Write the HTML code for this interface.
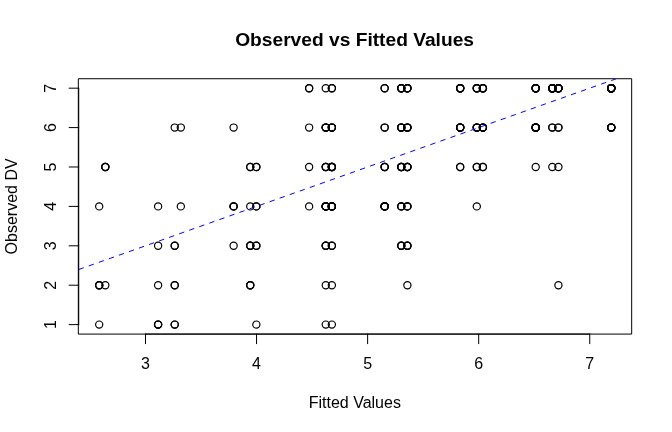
<!DOCTYPE html>
<html><head><meta charset="utf-8"><title>Observed vs Fitted Values</title>
<style>html,body{margin:0;padding:0;background:#fff;}body{width:672px;height:432px;overflow:hidden;font-family:"Liberation Sans",sans-serif;}svg{display:block;will-change:transform;}</style>
</head><body>
<svg width="672" height="432" viewBox="0 0 672 432">
<rect width="672" height="432" fill="#fff"/>
<g fill="none" stroke="#000" stroke-width="1.2"><circle cx="309.14" cy="88.18" r="3.6"/><circle cx="309.14" cy="88.18" r="3.6"/><circle cx="325.76" cy="88.18" r="3.6"/><circle cx="331.86" cy="88.18" r="3.6"/><circle cx="331.86" cy="88.18" r="3.6"/><circle cx="384.66" cy="88.18" r="3.6"/><circle cx="384.66" cy="88.18" r="3.6"/><circle cx="401.28" cy="88.18" r="3.6"/><circle cx="401.28" cy="88.18" r="3.6"/><circle cx="401.28" cy="88.18" r="3.6"/><circle cx="401.28" cy="88.18" r="3.6"/><circle cx="407.38" cy="88.18" r="3.6"/><circle cx="407.38" cy="88.18" r="3.6"/><circle cx="407.38" cy="88.18" r="3.6"/><circle cx="407.38" cy="88.18" r="3.6"/><circle cx="460.18" cy="88.18" r="3.6"/><circle cx="460.18" cy="88.18" r="3.6"/><circle cx="460.18" cy="88.18" r="3.6"/><circle cx="460.18" cy="88.18" r="3.6"/><circle cx="460.18" cy="88.18" r="3.6"/><circle cx="476.80" cy="88.18" r="3.6"/><circle cx="476.80" cy="88.18" r="3.6"/><circle cx="476.80" cy="88.18" r="3.6"/><circle cx="476.80" cy="88.18" r="3.6"/><circle cx="482.90" cy="88.18" r="3.6"/><circle cx="482.90" cy="88.18" r="3.6"/><circle cx="482.90" cy="88.18" r="3.6"/><circle cx="482.90" cy="88.18" r="3.6"/><circle cx="535.70" cy="88.18" r="3.6"/><circle cx="535.70" cy="88.18" r="3.6"/><circle cx="535.70" cy="88.18" r="3.6"/><circle cx="535.70" cy="88.18" r="3.6"/><circle cx="535.70" cy="88.18" r="3.6"/><circle cx="535.70" cy="88.18" r="3.6"/><circle cx="552.32" cy="88.18" r="3.6"/><circle cx="552.32" cy="88.18" r="3.6"/><circle cx="552.32" cy="88.18" r="3.6"/><circle cx="552.32" cy="88.18" r="3.6"/><circle cx="552.32" cy="88.18" r="3.6"/><circle cx="552.32" cy="88.18" r="3.6"/><circle cx="552.32" cy="88.18" r="3.6"/><circle cx="552.32" cy="88.18" r="3.6"/><circle cx="552.32" cy="88.18" r="3.6"/><circle cx="552.32" cy="88.18" r="3.6"/><circle cx="558.42" cy="88.18" r="3.6"/><circle cx="558.42" cy="88.18" r="3.6"/><circle cx="558.42" cy="88.18" r="3.6"/><circle cx="558.42" cy="88.18" r="3.6"/><circle cx="558.42" cy="88.18" r="3.6"/><circle cx="558.42" cy="88.18" r="3.6"/><circle cx="611.22" cy="88.18" r="3.6"/><circle cx="611.22" cy="88.18" r="3.6"/><circle cx="611.22" cy="88.18" r="3.6"/><circle cx="611.22" cy="88.18" r="3.6"/><circle cx="611.22" cy="88.18" r="3.6"/><circle cx="611.22" cy="88.18" r="3.6"/><circle cx="611.22" cy="88.18" r="3.6"/><circle cx="611.22" cy="88.18" r="3.6"/><circle cx="611.22" cy="88.18" r="3.6"/><circle cx="611.22" cy="88.18" r="3.6"/><circle cx="611.22" cy="88.18" r="3.6"/><circle cx="611.22" cy="88.18" r="3.6"/><circle cx="174.72" cy="127.59" r="3.6"/><circle cx="180.82" cy="127.59" r="3.6"/><circle cx="233.62" cy="127.59" r="3.6"/><circle cx="309.14" cy="127.59" r="3.6"/><circle cx="325.76" cy="127.59" r="3.6"/><circle cx="325.76" cy="127.59" r="3.6"/><circle cx="325.76" cy="127.59" r="3.6"/><circle cx="325.76" cy="127.59" r="3.6"/><circle cx="331.86" cy="127.59" r="3.6"/><circle cx="331.86" cy="127.59" r="3.6"/><circle cx="331.86" cy="127.59" r="3.6"/><circle cx="331.86" cy="127.59" r="3.6"/><circle cx="384.66" cy="127.59" r="3.6"/><circle cx="384.66" cy="127.59" r="3.6"/><circle cx="401.28" cy="127.59" r="3.6"/><circle cx="401.28" cy="127.59" r="3.6"/><circle cx="401.28" cy="127.59" r="3.6"/><circle cx="401.28" cy="127.59" r="3.6"/><circle cx="407.38" cy="127.59" r="3.6"/><circle cx="407.38" cy="127.59" r="3.6"/><circle cx="407.38" cy="127.59" r="3.6"/><circle cx="407.38" cy="127.59" r="3.6"/><circle cx="460.18" cy="127.59" r="3.6"/><circle cx="460.18" cy="127.59" r="3.6"/><circle cx="460.18" cy="127.59" r="3.6"/><circle cx="460.18" cy="127.59" r="3.6"/><circle cx="460.18" cy="127.59" r="3.6"/><circle cx="460.18" cy="127.59" r="3.6"/><circle cx="476.80" cy="127.59" r="3.6"/><circle cx="476.80" cy="127.59" r="3.6"/><circle cx="476.80" cy="127.59" r="3.6"/><circle cx="476.80" cy="127.59" r="3.6"/><circle cx="482.90" cy="127.59" r="3.6"/><circle cx="482.90" cy="127.59" r="3.6"/><circle cx="482.90" cy="127.59" r="3.6"/><circle cx="482.90" cy="127.59" r="3.6"/><circle cx="535.70" cy="127.59" r="3.6"/><circle cx="535.70" cy="127.59" r="3.6"/><circle cx="535.70" cy="127.59" r="3.6"/><circle cx="535.70" cy="127.59" r="3.6"/><circle cx="535.70" cy="127.59" r="3.6"/><circle cx="535.70" cy="127.59" r="3.6"/><circle cx="535.70" cy="127.59" r="3.6"/><circle cx="535.70" cy="127.59" r="3.6"/><circle cx="552.32" cy="127.59" r="3.6"/><circle cx="552.32" cy="127.59" r="3.6"/><circle cx="558.42" cy="127.59" r="3.6"/><circle cx="558.42" cy="127.59" r="3.6"/><circle cx="611.22" cy="127.59" r="3.6"/><circle cx="611.22" cy="127.59" r="3.6"/><circle cx="611.22" cy="127.59" r="3.6"/><circle cx="611.22" cy="127.59" r="3.6"/><circle cx="611.22" cy="127.59" r="3.6"/><circle cx="611.22" cy="127.59" r="3.6"/><circle cx="105.30" cy="166.99" r="3.6"/><circle cx="105.30" cy="166.99" r="3.6"/><circle cx="105.30" cy="166.99" r="3.6"/><circle cx="250.24" cy="166.99" r="3.6"/><circle cx="250.24" cy="166.99" r="3.6"/><circle cx="256.34" cy="166.99" r="3.6"/><circle cx="256.34" cy="166.99" r="3.6"/><circle cx="309.14" cy="166.99" r="3.6"/><circle cx="325.76" cy="166.99" r="3.6"/><circle cx="325.76" cy="166.99" r="3.6"/><circle cx="325.76" cy="166.99" r="3.6"/><circle cx="331.86" cy="166.99" r="3.6"/><circle cx="331.86" cy="166.99" r="3.6"/><circle cx="331.86" cy="166.99" r="3.6"/><circle cx="331.86" cy="166.99" r="3.6"/><circle cx="331.86" cy="166.99" r="3.6"/><circle cx="384.66" cy="166.99" r="3.6"/><circle cx="384.66" cy="166.99" r="3.6"/><circle cx="384.66" cy="166.99" r="3.6"/><circle cx="401.28" cy="166.99" r="3.6"/><circle cx="401.28" cy="166.99" r="3.6"/><circle cx="401.28" cy="166.99" r="3.6"/><circle cx="401.28" cy="166.99" r="3.6"/><circle cx="407.38" cy="166.99" r="3.6"/><circle cx="407.38" cy="166.99" r="3.6"/><circle cx="407.38" cy="166.99" r="3.6"/><circle cx="407.38" cy="166.99" r="3.6"/><circle cx="460.18" cy="166.99" r="3.6"/><circle cx="460.18" cy="166.99" r="3.6"/><circle cx="476.80" cy="166.99" r="3.6"/><circle cx="476.80" cy="166.99" r="3.6"/><circle cx="482.90" cy="166.99" r="3.6"/><circle cx="482.90" cy="166.99" r="3.6"/><circle cx="535.70" cy="166.99" r="3.6"/><circle cx="552.32" cy="166.99" r="3.6"/><circle cx="558.42" cy="166.99" r="3.6"/><circle cx="99.20" cy="206.40" r="3.6"/><circle cx="158.10" cy="206.40" r="3.6"/><circle cx="180.82" cy="206.40" r="3.6"/><circle cx="233.62" cy="206.40" r="3.6"/><circle cx="233.62" cy="206.40" r="3.6"/><circle cx="233.62" cy="206.40" r="3.6"/><circle cx="250.24" cy="206.40" r="3.6"/><circle cx="256.34" cy="206.40" r="3.6"/><circle cx="256.34" cy="206.40" r="3.6"/><circle cx="309.14" cy="206.40" r="3.6"/><circle cx="325.76" cy="206.40" r="3.6"/><circle cx="325.76" cy="206.40" r="3.6"/><circle cx="325.76" cy="206.40" r="3.6"/><circle cx="325.76" cy="206.40" r="3.6"/><circle cx="325.76" cy="206.40" r="3.6"/><circle cx="325.76" cy="206.40" r="3.6"/><circle cx="325.76" cy="206.40" r="3.6"/><circle cx="331.86" cy="206.40" r="3.6"/><circle cx="331.86" cy="206.40" r="3.6"/><circle cx="331.86" cy="206.40" r="3.6"/><circle cx="331.86" cy="206.40" r="3.6"/><circle cx="331.86" cy="206.40" r="3.6"/><circle cx="331.86" cy="206.40" r="3.6"/><circle cx="331.86" cy="206.40" r="3.6"/><circle cx="384.66" cy="206.40" r="3.6"/><circle cx="384.66" cy="206.40" r="3.6"/><circle cx="384.66" cy="206.40" r="3.6"/><circle cx="384.66" cy="206.40" r="3.6"/><circle cx="384.66" cy="206.40" r="3.6"/><circle cx="384.66" cy="206.40" r="3.6"/><circle cx="401.28" cy="206.40" r="3.6"/><circle cx="401.28" cy="206.40" r="3.6"/><circle cx="401.28" cy="206.40" r="3.6"/><circle cx="407.38" cy="206.40" r="3.6"/><circle cx="407.38" cy="206.40" r="3.6"/><circle cx="407.38" cy="206.40" r="3.6"/><circle cx="476.80" cy="206.40" r="3.6"/><circle cx="158.10" cy="245.81" r="3.6"/><circle cx="174.72" cy="245.81" r="3.6"/><circle cx="174.72" cy="245.81" r="3.6"/><circle cx="233.62" cy="245.81" r="3.6"/><circle cx="250.24" cy="245.81" r="3.6"/><circle cx="250.24" cy="245.81" r="3.6"/><circle cx="250.24" cy="245.81" r="3.6"/><circle cx="256.34" cy="245.81" r="3.6"/><circle cx="256.34" cy="245.81" r="3.6"/><circle cx="325.76" cy="245.81" r="3.6"/><circle cx="325.76" cy="245.81" r="3.6"/><circle cx="325.76" cy="245.81" r="3.6"/><circle cx="331.86" cy="245.81" r="3.6"/><circle cx="331.86" cy="245.81" r="3.6"/><circle cx="401.28" cy="245.81" r="3.6"/><circle cx="401.28" cy="245.81" r="3.6"/><circle cx="401.28" cy="245.81" r="3.6"/><circle cx="407.38" cy="245.81" r="3.6"/><circle cx="407.38" cy="245.81" r="3.6"/><circle cx="407.38" cy="245.81" r="3.6"/><circle cx="99.20" cy="285.21" r="3.6"/><circle cx="99.20" cy="285.21" r="3.6"/><circle cx="99.20" cy="285.21" r="3.6"/><circle cx="105.30" cy="285.21" r="3.6"/><circle cx="158.10" cy="285.21" r="3.6"/><circle cx="174.72" cy="285.21" r="3.6"/><circle cx="174.72" cy="285.21" r="3.6"/><circle cx="250.24" cy="285.21" r="3.6"/><circle cx="250.24" cy="285.21" r="3.6"/><circle cx="250.24" cy="285.21" r="3.6"/><circle cx="325.76" cy="285.21" r="3.6"/><circle cx="331.86" cy="285.21" r="3.6"/><circle cx="407.38" cy="285.21" r="3.6"/><circle cx="558.42" cy="285.21" r="3.6"/><circle cx="99.20" cy="324.62" r="3.6"/><circle cx="158.10" cy="324.62" r="3.6"/><circle cx="158.10" cy="324.62" r="3.6"/><circle cx="158.10" cy="324.62" r="3.6"/><circle cx="174.72" cy="324.62" r="3.6"/><circle cx="174.72" cy="324.62" r="3.6"/><circle cx="256.34" cy="324.62" r="3.6"/><circle cx="325.76" cy="324.62" r="3.6"/><circle cx="331.86" cy="324.62" r="3.6"/></g>
<g fill="none" stroke="#000" stroke-width="1" stroke-linecap="round" stroke-linejoin="round"><path d="M145.49 334.08H589.74"/><path d="M145.49 334.08v9.6"/><path d="M256.55 334.08v9.6"/><path d="M367.62 334.08v9.6"/><path d="M478.68 334.08v9.6"/><path d="M589.74 334.08v9.6"/><path d="M78.72 324.62V88.18"/><path d="M78.72 324.62h-9.6"/><path d="M78.72 285.21h-9.6"/><path d="M78.72 245.81h-9.6"/><path d="M78.72 206.40h-9.6"/><path d="M78.72 166.99h-9.6"/><path d="M78.72 127.59h-9.6"/><path d="M78.72 88.18h-9.6"/><rect x="78.72" y="78.72" width="552.96" height="255.36"/></g>
<clipPath id="c"><rect x="78.72" y="78.72" width="552.96" height="255.36"/></clipPath>
<path clip-path="url(#c)" d="M78.72 269.50L656.38 64.53" stroke="#0000ff" stroke-width="1" stroke-dasharray="5.33 5.33" stroke-dashoffset="0" fill="none"/>
<g font-family="'Liberation Sans', sans-serif" font-size="16" fill="#000"><text x="145.49" y="368.64" text-anchor="middle">3</text><text x="256.55" y="368.64" text-anchor="middle">4</text><text x="367.62" y="368.64" text-anchor="middle">5</text><text x="478.68" y="368.64" text-anchor="middle">6</text><text x="589.74" y="368.64" text-anchor="middle">7</text><text transform="translate(55.68 324.62) rotate(-90)" text-anchor="middle">1</text><text transform="translate(55.68 285.21) rotate(-90)" text-anchor="middle">2</text><text transform="translate(55.68 245.81) rotate(-90)" text-anchor="middle">3</text><text transform="translate(55.68 206.40) rotate(-90)" text-anchor="middle">4</text><text transform="translate(55.68 166.99) rotate(-90)" text-anchor="middle">5</text><text transform="translate(55.68 127.59) rotate(-90)" text-anchor="middle">6</text><text transform="translate(55.68 88.18) rotate(-90)" text-anchor="middle">7</text><text x="354.80" y="408" text-anchor="middle">Fitted Values</text><text transform="translate(17.28 206.40) rotate(-90)" text-anchor="middle">Observed DV</text></g>
<text x="354.60" y="46.4" text-anchor="middle" font-family="'Liberation Sans', sans-serif" font-weight="bold" font-size="19.2" fill="#000">Observed vs Fitted Values</text>
</svg>
</body></html>
